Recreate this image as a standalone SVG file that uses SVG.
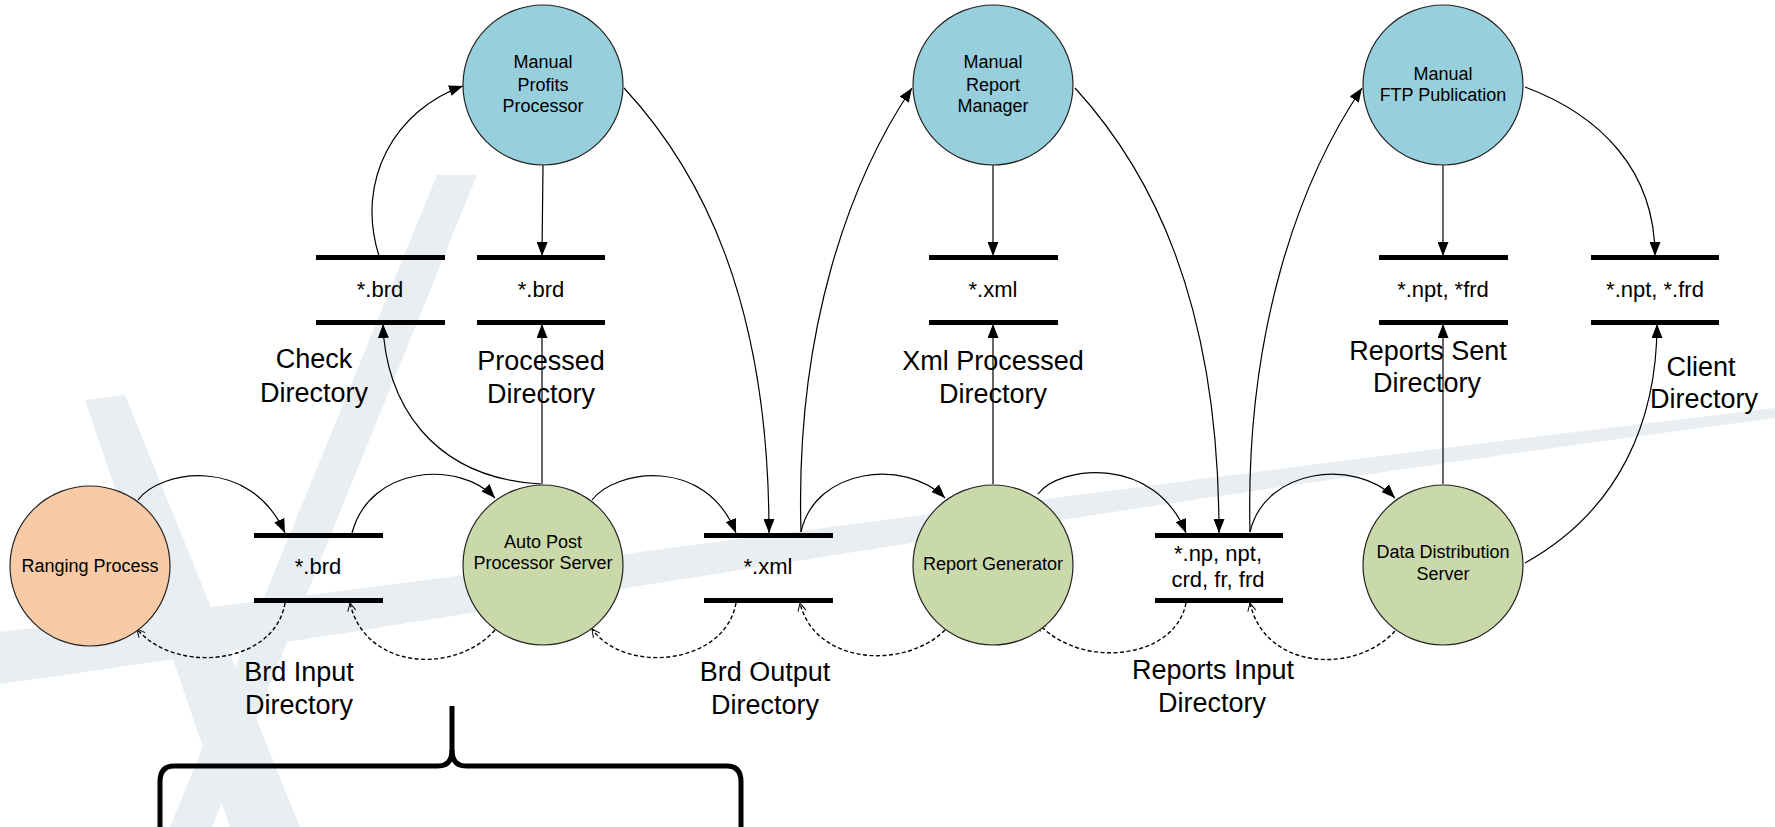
<svg xmlns="http://www.w3.org/2000/svg" width="1775" height="827" viewBox="0 0 1775 827">
<style>
.wm{fill:#e9eef2;stroke:none}
.proc{stroke:#222;stroke-width:1.2}
.auto{fill:#cad9a9}
.manual{fill:#98cfdc}
.ranging{fill:#f8cba6}
.bar{fill:#000}
.ct{font-family:"Liberation Sans",Arial,sans-serif;font-size:18px;fill:#000;text-anchor:middle}
.st{font-family:"Liberation Sans",Arial,sans-serif;font-size:22px;fill:#000;text-anchor:middle}
.lb{font-family:"Liberation Sans",Arial,sans-serif;font-size:27px;fill:#000;text-anchor:middle}
.c{fill:none;stroke:#000;stroke-width:1.2}
.solid{marker-end:url(#ah)}
.dash{stroke-width:1.4;stroke-dasharray:4 2.5;marker-end:url(#oh)}
.brace{fill:none;stroke:#000;stroke-width:5}
</style>
<defs>
<marker id="ah" markerUnits="userSpaceOnUse" markerWidth="14" markerHeight="11" refX="14" refY="5.5" orient="auto">
<path d="M0,0 L14,5.5 L0,11 z" fill="#000"/>
</marker>
<marker id="oh" markerUnits="userSpaceOnUse" markerWidth="10" markerHeight="10" refX="9" refY="5" orient="auto">
<path d="M1,1 L9,5 L1,9" fill="none" stroke="#000" stroke-width="1"/>
</marker>
</defs>
<rect width="1775" height="827" fill="#fff"/>
<g id="watermark">
<polygon class="wm" points="437,175 477,175 212,827 170,827"/>
<polygon class="wm" points="85,400 125,395 300,827 230,827"/>
<path class="wm" d="M0,632 C400,588 1000,500 1775,408 L1775,418 C1000,520 400,630 0,684 Z"/>
</g>
<g id="connectors">
<path class="c solid" d="M138,500 C160,470 250,455 285,533"/>
<path class="c solid" d="M352,533 C370,465 460,460 495,498"/>
<path class="c solid" d="M592,500 C615,470 705,455 736,533"/>
<path class="c solid" d="M801,532 C815,468 905,458 945,498"/>
<path class="c solid" d="M1038,494 C1060,465 1155,455 1186,533"/>
<path class="c solid" d="M1250,532 C1265,468 1355,458 1395,498"/>
<path class="c dash" d="M285,603 C275,665 175,675 137,629"/>
<path class="c dash" d="M495,630 C455,675 365,670 350,603"/>
<path class="c dash" d="M736,603 C725,665 625,675 592,629"/>
<path class="c dash" d="M945,630 C905,670 815,665 800,603"/>
<path class="c dash" d="M1186,603 C1175,660 1080,670 1038,623"/>
<path class="c dash" d="M1395,631 C1355,675 1265,670 1250,603"/>
<path class="c solid" d="M541,484 C430,478 385,400 383,324"/>
<path class="c solid" d="M542,484 L542,324"/>
<path class="c solid" d="M379,256 C355,180 395,110 463,86"/>
<path class="c solid" d="M543,165 L542,256"/>
<path class="c solid" d="M624,88 C700,170 769,300 769,533"/>
<path class="c solid" d="M801,532 C795,330 850,180 912,88"/>
<path class="c solid" d="M993,165 L993,256"/>
<path class="c solid" d="M993,484 L993,324"/>
<path class="c solid" d="M1075,88 C1150,170 1219,300 1219,533"/>
<path class="c solid" d="M1250,532 C1245,330 1300,180 1362,88"/>
<path class="c solid" d="M1443,165 L1443,256"/>
<path class="c solid" d="M1443,484 L1443,324"/>
<path class="c solid" d="M1525,87 C1600,115 1655,170 1655,256"/>
<path class="c solid" d="M1525,563 C1620,510 1657,420 1657,324"/>
</g>
<g id="ranging-process"><ellipse class="proc ranging" cx="90" cy="566" rx="80" ry="80"/><text class="ct" x="90" y="572">Ranging Process</text></g>
<g id="auto-post"><ellipse class="proc auto" cx="543" cy="565" rx="80" ry="80"/><text class="ct" x="543" y="548">Auto Post</text><text class="ct" x="543" y="569">Processor Server</text></g>
<g id="report-generator"><ellipse class="proc auto" cx="993" cy="565" rx="80" ry="80"/><text class="ct" x="993" y="570">Report Generator</text></g>
<g id="data-distribution"><ellipse class="proc auto" cx="1443" cy="565" rx="80" ry="80"/><text class="ct" x="1443" y="558">Data Distribution</text><text class="ct" x="1443" y="580">Server</text></g>
<g id="manual-profits"><circle class="proc manual" cx="543" cy="85" r="80"/><text class="ct" x="543" y="68">Manual</text><text class="ct" x="543" y="91">Profits</text><text class="ct" x="543" y="112">Processor</text></g>
<g id="manual-report"><circle class="proc manual" cx="993" cy="85" r="80"/><text class="ct" x="993" y="68">Manual</text><text class="ct" x="993" y="91">Report</text><text class="ct" x="993" y="112">Manager</text></g>
<g id="manual-ftp"><circle class="proc manual" cx="1443" cy="85" r="80"/><text class="ct" x="1443" y="80">Manual</text><text class="ct" x="1443" y="101">FTP Publication</text></g>
<g id="brd-input"><rect class="bar" x="254" y="533" width="129" height="5"/><rect class="bar" x="254" y="598" width="129" height="5"/><text class="st" x="318" y="574">*.brd</text><text class="lb" x="299" y="681">Brd Input</text><text class="lb" x="299" y="714">Directory</text></g>
<g id="brd-output"><rect class="bar" x="704" y="533" width="129" height="5"/><rect class="bar" x="704" y="598" width="129" height="5"/><text class="st" x="768" y="574">*.xml</text><text class="lb" x="765" y="681">Brd Output</text><text class="lb" x="765" y="714">Directory</text></g>
<g id="reports-input"><rect class="bar" x="1155" y="533" width="128" height="5"/><rect class="bar" x="1155" y="598" width="128" height="5"/><text class="st" x="1218" y="561">*.np, npt,</text><text class="st" x="1218" y="587">crd, fr, frd</text><text class="lb" x="1213" y="679">Reports Input</text><text class="lb" x="1212" y="712">Directory</text></g>
<g id="check-dir"><rect class="bar" x="316" y="255" width="129" height="5"/><rect class="bar" x="316" y="320" width="129" height="5"/><text class="st" x="380" y="297">*.brd</text><text class="lb" x="314" y="368">Check</text><text class="lb" x="314" y="402">Directory</text></g>
<g id="processed-dir"><rect class="bar" x="477" y="255" width="128" height="5"/><rect class="bar" x="477" y="320" width="128" height="5"/><text class="st" x="541" y="297">*.brd</text><text class="lb" x="541" y="370">Processed</text><text class="lb" x="541" y="403">Directory</text></g>
<g id="xml-processed-dir"><rect class="bar" x="929" y="255" width="129" height="5"/><rect class="bar" x="929" y="320" width="129" height="5"/><text class="st" x="993" y="297">*.xml</text><text class="lb" x="993" y="370">Xml Processed</text><text class="lb" x="993" y="403">Directory</text></g>
<g id="reports-sent-dir"><rect class="bar" x="1379" y="255" width="129" height="5"/><rect class="bar" x="1379" y="320" width="129" height="5"/><text class="st" x="1443" y="297">*.npt, *frd</text><text class="lb" x="1428" y="360">Reports Sent</text><text class="lb" x="1427" y="392">Directory</text></g>
<g id="client-dir"><rect class="bar" x="1591" y="255" width="128" height="5"/><rect class="bar" x="1591" y="320" width="128" height="5"/><text class="st" x="1655" y="297">*.npt, *.frd</text><text class="lb" x="1701" y="376">Client</text><text class="lb" x="1704" y="408">Directory</text></g>
<g id="brace">
<path class="brace" d="M452,706 L452,750 Q452,766 438,766 L174,766 Q160,766 160,782 L160,827"/>
<path class="brace" d="M452,750 Q452,766 466,766 L727,766 Q741,766 741,782 L741,827"/>
</g>
</svg>
